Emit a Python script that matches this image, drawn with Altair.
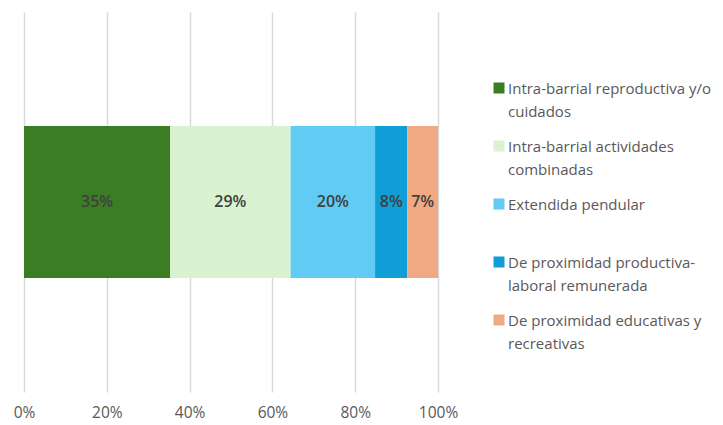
import altair as alt
import pandas as pd

categories = [
    "Intra-barrial reproductiva y/o cuidados",
    "Intra-barrial actividades combinadas",
    "Extendida pendular",
    "De proximidad productiva-laboral remunerada",
    "De proximidad educativas y recreativas",
]
legend_labels = [
    "Intra-barrial reproductiva y/o\ncuidados",
    "Intra-barrial actividades\ncombinadas",
    "Extendida pendular",
    "De proximidad productiva-\nlaboral remunerada",
    "De proximidad educativas y\nrecreativas",
]
values = [35.3, 29.1, 20.4, 7.8, 7.4]
colors = ["#3B7D23", "#D9F2D0", "#61CBF3", "#0F9ED5", "#F1A983"]
tick_values = [0, 20, 40, 60, 80, 100]

FONT = "Open Sans"

df = pd.DataFrame({
    "cat": categories,
    "label": legend_labels,
    "value": values,
    "order": list(range(len(categories))),
    "row": ["all"] * len(categories),
})

color_scale = alt.Scale(domain=categories, range=colors)
y_enc = alt.Y("row:N", axis=None, scale=alt.Scale(paddingOuter=0.75, paddingInner=0))

base = alt.Chart(df).transform_window(
    cum="sum(value)", sort=[alt.SortField("order")]
).transform_calculate(
    start="datum.cum - datum.value",
    mid="datum.cum - datum.value / 2",
    pct="format(round(datum.value), 'd') + '%'",
)

x_scale = alt.Scale(domain=[0, 100], nice=False)
x_axis = alt.Axis(
    values=tick_values,
    labelExpr="datum.value + '%'",
    title=None,
    domain=False,
    ticks=False,
    grid=True,
    gridColor="#D9D9D9",
    gridWidth=1.5,
    labelColor="#595959",
    labelFont=FONT,
    labelFontSize=15.5,
    labelPadding=13,
    labelFlush=False,
)

bars = base.mark_bar(stroke=None).encode(
    x=alt.X("start:Q", scale=x_scale, axis=x_axis),
    x2="cum:Q",
    y=y_enc,
    color=alt.Color("cat:N", scale=color_scale, legend=None),
)

texts = base.mark_text(
    font=FONT, fontSize=16, fontWeight=600, color="#404040"
).encode(
    x=alt.X("mid:Q", scale=x_scale),
    y=y_enc,
    text="pct:N",
)

main = alt.layer(bars, texts).properties(width=414, height=380)

leg_y = alt.Y("cat:N", sort=categories, axis=None,
              scale=alt.Scale(type="point", range=[76, 308], padding=0))

leg_sq = alt.Chart(df).mark_square(size=121, opacity=1).encode(
    x=alt.value(6),
    y=leg_y,
    color=alt.Color("cat:N", scale=color_scale, legend=None),
)
leg_tx = alt.Chart(df).mark_text(
    font=FONT, fontSize=15, color="#595959", align="left", baseline="alphabetic",
    dy=5.5, lineBreak="\n", lineHeight=23,
).encode(
    x=alt.value(15),
    y=leg_y,
    text="label:N",
)
legend = alt.layer(leg_sq, leg_tx).properties(width=190, height=380)

chart = alt.hconcat(main, legend, spacing=55, bounds="flush").properties(
    padding={"left": 5, "top": 4, "right": 0, "bottom": 0}
).configure_view(stroke=None)

chart.save("out.html", embed_options={"renderer": "svg", "actions": False})
